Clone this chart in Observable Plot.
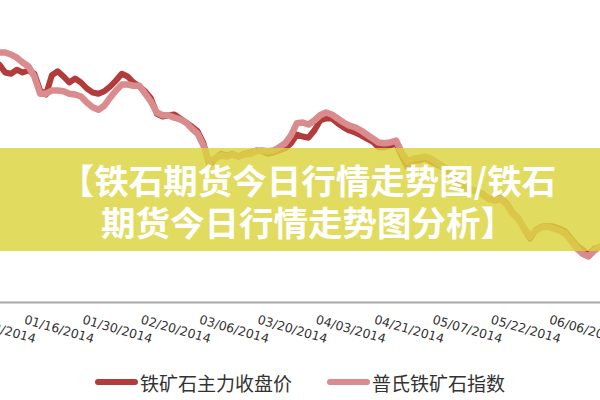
<!DOCTYPE html>
<html><head><meta charset="utf-8">
<script src="https://cdn.jsdelivr.net/npm/d3@7"></script>
<script src="https://cdn.jsdelivr.net/npm/@observablehq/plot@0.6"></script>
<style>
body{margin:0;background:#fff;}
#wrap{position:relative;width:600px;height:400px;overflow:hidden;background:#fff;}
#chart{position:absolute;left:0;top:0;}
#banner{position:absolute;left:0;top:148px;width:600px;height:103px;background:rgba(218,212,60,0.82);}
#title{position:absolute;left:0;top:158px;width:616px;text-align:center;color:#fff;font-family:"Noto Sans CJK SC";font-weight:700;font-size:34.5px;line-height:42px;white-space:pre;}
#legend{position:absolute;left:0;top:366px;width:600px;height:32px;display:flex;justify-content:center;align-items:center;gap:35px;font-family:"Noto Sans CJK SC";font-size:19px;color:#333;}
.item{display:flex;align-items:center;}
.sw{width:43px;height:6px;border-radius:3px;margin-right:2px;}
</style></head><body>
<div id="wrap">
  <div id="chart"></div>
  <div id="banner"></div>
  <div id="title"></div>
  <div id="legend"></div>
</div>
<script>
const titleLines = ["【铁石期货今日行情走势图/铁石", "期货今日行情走势图分析】"];
const seriesNames = ["铁矿石主力收盘价", "普氏铁矿石指数"];
const seriesColors = ["#b23b3b", "#d98b8d"];
const tickIndex = [0, 10, 20, 30, 40, 50, 60, 70, 80, 90, 100];
const tickLabels = ["01/02/2014", "01/16/2014", "01/30/2014", "02/20/2014", "03/06/2014", "03/20/2014", "04/03/2014", "04/21/2014", "05/07/2014", "05/22/2014", "06/06/2014"];
const firstDay = 5;
const mainClose = [
  897.5, 887.5, 886, 891, 887.5, 890, 886, 865, 860, 884,
  889, 882.5, 875, 880, 875, 867.5, 862.5, 861, 864, 870,
  877.5, 886, 882.5, 875, 870, 864, 855, 836, 832.5, 834,
  835, 830, 825, 820, 814, 799, 771, 780, 786, 784,
  786, 782.5, 786, 787.5, 790, 789, 786, 787.5, 790, 792.5,
  799, 810, 807.5, 806, 815, 827.5, 830, 830, 824, 819,
  815, 812.5, 809, 805, 801, 794, 794, 796, 799, 782.5,
  769, 777.5, 777.5, 780, 776, 772.5, 769, 764, 756, 746,
  742.5, 740, 739, 735, 729, 729, 731, 724, 712.5, 705,
  691, 680, 691, 695, 696, 695, 692.5, 689, 680, 671,
  666, 660, 667.5, 670, 671
];
const plattsIndex = [
  912.5, 912.5, 910, 906, 900, 895, 882.5, 861, 861, 865,
  865, 864, 861, 860, 857.5, 850, 844, 841, 846, 856,
  865, 872.5, 872.5, 871, 871, 861, 851, 837.5, 834, 834,
  831, 829, 825, 817.5, 811, 796, 775, 780, 784, 782.5,
  785, 782.5, 785, 786, 789, 790, 789, 790, 794, 799,
  809, 824, 825, 822.5, 827.5, 834, 837.5, 835, 830, 825,
  821, 819, 815, 810, 805, 800, 799, 800, 802.5, 787.5,
  776, 780, 781, 782.5, 780, 775, 770, 765, 757.5, 749,
  744, 741, 739, 734, 729, 727.5, 729, 722.5, 711, 704,
  692.5, 682.5, 690, 694, 695, 692.5, 690, 686, 677.5, 667.5,
  661, 657.5, 665, 670, 671
];
const yMin = 600, yMax = 977.5;

const mainRows = mainClose.map((v, i) => ({day: firstDay + i, value: v}));
const plattsRows = plattsIndex.map((v, i) => ({day: firstDay + i, value: v}));

const chart = Plot.plot({
  width: 600, height: 360,
  marginTop: 0, marginRight: 0, marginLeft: 0, marginBottom: 58,
  x: {domain: [5.2, 108.06], axis: null, label: null},
  y: {domain: [yMin, yMax], axis: null, label: null},
  style: {fontFamily: "DejaVu Sans", background: "transparent", overflow: "visible"},
  marks: [
    Plot.ruleY([yMin], {stroke: "#a8a8a8", strokeWidth: 2}),
    Plot.axisX(tickIndex, {
      tickSize: 0, tickPadding: 17, tickRotate: 16, dx: -4, label: null,
      fontSize: 12.5, fill: "#333",
      tickFormat: d => tickLabels[tickIndex.indexOf(d)]
    }),
    Plot.line(mainRows, {x: "day", y: "value", stroke: seriesColors[0], strokeWidth: 6, clip: true}),
    Plot.line(plattsRows, {x: "day", y: "value", stroke: seriesColors[1], strokeWidth: 6.5, clip: true})
  ]
});
document.getElementById("chart").appendChild(chart);

document.getElementById("title").textContent = titleLines.join("\n");

const legend = document.getElementById("legend");
seriesNames.forEach((name, i) => {
  const item = document.createElement("div");
  item.className = "item";
  const sw = document.createElement("div");
  sw.className = "sw";
  sw.style.background = seriesColors[i];
  const t = document.createElement("span");
  t.textContent = name;
  item.appendChild(sw); item.appendChild(t);
  legend.appendChild(item);
});
</script>
</body></html>
